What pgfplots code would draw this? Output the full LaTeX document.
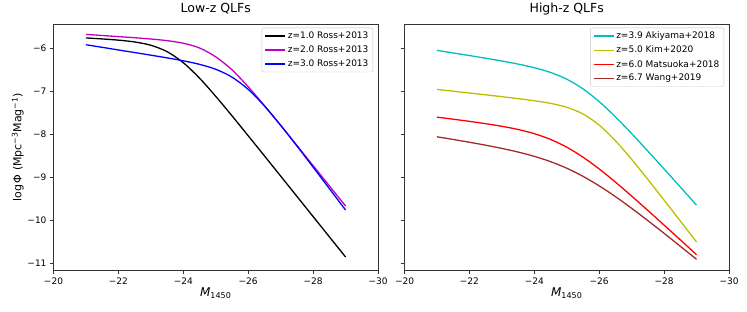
\documentclass[border=0pt]{standalone}
\usepackage{pgfplots}
\pgfplotsset{compat=1.18}
\usepackage{fontspec}
\setmainfont{DejaVu Sans}
\setsansfont{DejaVu Sans}
\definecolor{mplm}{rgb}{0.75,0,0.75}
\definecolor{mplc}{rgb}{0,0.75,0.75}
\definecolor{mply}{rgb}{0.75,0.75,0}
\definecolor{brownc}{HTML}{A52A2A}
\definecolor{spine}{gray}{0.2}
\pgfplotsset{
  qlf/.style={
    scale only axis, width=324.5pt, height=246.7pt,
    xmin=-30, xmax=-20, x dir=reverse,
    ymin=-11.17, ymax=-5.44,
    xtick={-20,-22,-24,-26,-28,-30},
    xticklabels={−20,−22,−24,−26,−28,−30},
    ytick={-6,-7,-8,-9,-10,-11},
    tick align=outside, xtick pos=left, ytick pos=left,
    major tick length=3.5pt,
    every tick/.style={spine, line width=0.6pt},
    axis line style={spine, line width=0.7pt},
    tick label style={font=\fontsize{9}{11}\selectfont},
    xticklabel style={yshift=-0.5pt},
    title style={font=\fontsize{12.5}{15}\selectfont, at={(axis description cs:0.5,1)}, anchor=base, yshift=5pt},
    xlabel={\textit{M}\textsubscript{1450}},
    xlabel style={font=\fontsize{12}{14}\selectfont, at={(axis description cs:0.5,-0.09)}, anchor=center},
    legend cell align=left,
    legend image code/.code={\draw[#1, line width=1.4pt] (0pt,0pt) -- (20pt,0pt);},
    legend style={at={(0.985,0.985)}, anchor=north east, draw=black!22, rounded corners=2pt,
      font=\fontsize{9}{11.5}\selectfont, row sep=1.8pt, inner xsep=2.5pt, inner ysep=2pt},
    every axis plot/.append style={line width=1.3pt, smooth, no marks},
  }
}
\begin{document}
\begin{tikzpicture}
\useasboundingbox (-53.5pt,-41.3pt) rectangle (693.5pt,270.7pt);
\begin{axis}[qlf, title={Low-z QLFs},
  yticklabels={−6,−7,−8,−9,−10,−11},
  ylabel={log\,Φ (Mpc\textsuperscript{−3}Mag\textsuperscript{−1})},
  ylabel style={font=\fontsize{11}{13}\selectfont, at={(axis description cs:-0.11,0.5)}, anchor=center, rotate=0},
  ]
\addplot[black] coordinates {
(-21.0,-5.764) (-21.5,-5.787) (-22.0,-5.815) (-22.5,-5.857) (-23.0,-5.934) (-23.5,-6.082)
(-24.0,-6.339) (-24.5,-6.698) (-25.0,-7.121) (-25.5,-7.572) (-26.0,-8.036) (-26.5,-8.503)
(-27.0,-8.972) (-27.5,-9.442) (-28.0,-9.912) (-28.5,-10.382) (-29.0,-10.852)};
\addlegendentry{z=1.0 Ross+2013}
\addplot[mplm] coordinates {
(-21.0,-5.682) (-21.5,-5.707) (-22.0,-5.733) (-22.5,-5.759) (-23.0,-5.789) (-23.5,-5.827)
(-24.0,-5.887) (-24.5,-5.997) (-25.0,-6.203) (-25.5,-6.504) (-26.0,-6.898) (-26.5,-7.337)
(-27.0,-7.795) (-27.5,-8.260) (-28.0,-8.729) (-28.5,-9.198) (-29.0,-9.668)};
\addlegendentry{z=2.0 Ross+2013}
\addplot[blue] coordinates {
(-21.0,-5.922) (-21.5,-5.982) (-22.0,-6.043) (-22.5,-6.103) (-23.0,-6.164) (-23.5,-6.227)
(-24.0,-6.295) (-24.5,-6.377) (-25.0,-6.492) (-25.5,-6.674) (-26.0,-6.958) (-26.5,-7.343)
(-27.0,-7.792) (-27.5,-8.272) (-28.0,-8.764) (-28.5,-9.262) (-29.0,-9.761)};
\addlegendentry{z=3.0 Ross+2013}
\end{axis}
\begin{axis}[qlf, at={(351pt,0pt)}, anchor=south west, title={High-z QLFs},
  yticklabels={}]
\addplot[mplc] coordinates {
(-21.0,-6.052) (-21.5,-6.113) (-22.0,-6.173) (-22.5,-6.235) (-23.0,-6.300) (-23.5,-6.371)
(-24.0,-6.455) (-24.5,-6.565) (-25.0,-6.722) (-25.5,-6.947) (-26.0,-7.243) (-26.5,-7.598)
(-27.0,-7.986) (-27.5,-8.393) (-28.0,-8.808) (-28.5,-9.227) (-29.0,-9.648)};
\addlegendentry{z=3.9 Akiyama+2018}
\addplot[mply] coordinates {
(-21.0,-6.959) (-21.5,-7.001) (-22.0,-7.043) (-22.5,-7.085) (-23.0,-7.128) (-23.5,-7.173)
(-24.0,-7.222) (-24.5,-7.283) (-25.0,-7.374) (-25.5,-7.530) (-26.0,-7.789) (-26.5,-8.152)
(-27.0,-8.585) (-27.5,-9.051) (-28.0,-9.531) (-28.5,-10.016) (-29.0,-10.503)};
\addlegendentry{z=5.0 Kim+2020}
\addplot[red] coordinates {
(-21.0,-7.603) (-21.5,-7.651) (-22.0,-7.701) (-22.5,-7.755) (-23.0,-7.816) (-23.5,-7.890)
(-24.0,-7.987) (-24.5,-8.121) (-25.0,-8.301) (-25.5,-8.533) (-26.0,-8.807) (-26.5,-9.112)
(-27.0,-9.437) (-27.5,-9.771) (-28.0,-10.111) (-28.5,-10.454) (-29.0,-10.799)};
\addlegendentry{z=6.0 Matsuoka+2018}
\addplot[brownc] coordinates {
(-21.0,-8.060) (-21.5,-8.122) (-22.0,-8.187) (-22.5,-8.255) (-23.0,-8.330) (-23.5,-8.414)
(-24.0,-8.514) (-24.5,-8.637) (-25.0,-8.790) (-25.5,-8.978) (-26.0,-9.199) (-26.5,-9.450)
(-27.0,-9.721) (-27.5,-10.007) (-28.0,-10.302) (-28.5,-10.603) (-29.0,-10.906)};
\addlegendentry{z=6.7 Wang+2019}
\end{axis}
\end{tikzpicture}
\end{document}
